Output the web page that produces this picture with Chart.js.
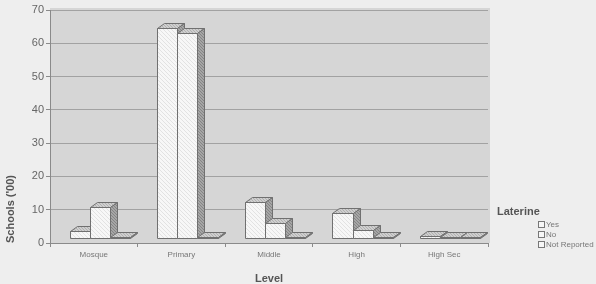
<!DOCTYPE html>
<html>
<head>
<meta charset="utf-8">
<script src="https://cdn.jsdelivr.net/npm/chart.js@4/dist/chart.umd.min.js"></script>
<style>
  html, body { margin: 0; padding: 0; background: #eeeeee; }
  #wrap { position: relative; width: 596px; height: 284px; font-family: "Liberation Sans", Arial, sans-serif; }
  #leg { position: absolute; left: 497px; top: 205px; color: #555; }
  #leg .t { font-weight: bold; font-size: 11px; color: #555; }
  #leg ul { list-style: none; margin: 3px 0 0 41px; padding: 0; font-size: 8px; color: #777; line-height: 10px; }
  #leg li span { display: inline-block; width: 5px; height: 5px; border: 1px solid #777; background: #f6f6f6; margin-right: 1px; vertical-align: -1px; }
</style>
</head>
<body>
<div id="wrap">
  <canvas id="c" width="596" height="284"></canvas>
  <div id="leg"><div class="t">Laterine</div><ul id="leg-items"></ul></div>
</div>
<script>
// niveaux scolaires et nombre d'écoles (centaines) par présence de latrines
const niveaux = ["Mosque", "Primary", "Middle", "High", "High Sec"];
const serieNoms = ["Yes", "No", "Not Reported"];
const oui = [2.4, 63.5, 11.1, 7.8, 1];
const non = [9.5, 61.8, 4.8, 2.7, 0.5];
const nonRapporte = [0.5, 0.5, 0.5, 0.5, 0.5];

const PROF = { dx: 7, dy: 5 };      // profondeur des faces 3D
const DECALAGE = { x: 6, y: -4 };   // face avant décalée par rapport au mur du fond

function motif(fond, trait, pas) {
  const c = document.createElement("canvas");
  c.width = c.height = pas;
  const g = c.getContext("2d");
  g.fillStyle = fond; g.fillRect(0, 0, pas, pas);
  g.strokeStyle = trait; g.lineWidth = 0.8;
  g.beginPath(); g.moveTo(-1, -1); g.lineTo(pas + 1, pas + 1); g.stroke();
  return document.getElementById("c").getContext("2d").createPattern(c, "repeat");
}

const FACE = motif("#f7f7f7", "#dcdcdc", 4);
const DESSUS = motif("#cfcfcf", "#a8a8a8", 3);
const COTE = motif("#a6a6a6", "#7c7c7c", 3);

const fondPanneau = {
  id: "fondPanneau",
  beforeDraw(chart) {
    const { ctx, chartArea: a } = chart;
    ctx.save();
    ctx.fillStyle = "#d6d6d6";
    ctx.fillRect(a.left, a.top - 2, a.right - a.left + 2, a.bottom - a.top + 2);
    ctx.restore();
  },
};

// barres dessinées en 3D à partir des éléments calculés par Chart.js
const barres3d = {
  id: "barres3d",
  afterDatasetsDraw(chart) {
    const ctx = chart.ctx;
    const els = [];
    chart.data.datasets.forEach((d, i) => chart.getDatasetMeta(i).data.forEach((el) => els.push(el)));
    els.sort((a, b) => a.x - b.x);
    ctx.save();
    ctx.translate(DECALAGE.x, DECALAGE.y);
    ctx.strokeStyle = "#707070";
    ctx.lineWidth = 1;
    ctx.lineJoin = "round";
    els.forEach((el) => {
      const l = Math.round(el.x - el.width / 2) + 0.5, r = Math.round(el.x + el.width / 2) + 0.5;
      const t = Math.round(el.y) + 0.5, b = Math.round(el.base) - 0.5;
      const { dx, dy } = PROF;
      ctx.fillStyle = FACE;
      ctx.beginPath(); ctx.rect(l, t, r - l, b - t); ctx.fill(); ctx.stroke();
      ctx.fillStyle = DESSUS;
      ctx.beginPath();
      ctx.moveTo(l, t); ctx.lineTo(l + dx, t - dy); ctx.lineTo(r + dx, t - dy); ctx.lineTo(r, t);
      ctx.closePath(); ctx.fill(); ctx.stroke();
      ctx.fillStyle = COTE;
      ctx.beginPath();
      ctx.moveTo(r, t); ctx.lineTo(r + dx, t - dy); ctx.lineTo(r + dx, b - dy); ctx.lineTo(r, b);
      ctx.closePath(); ctx.fill(); ctx.stroke();
    });
    ctx.restore();
  },
};

const transparent = "rgba(0,0,0,0)";
new Chart(document.getElementById("c"), {
  type: "bar",
  data: {
    labels: niveaux,
    datasets: [oui, non, nonRapporte].map((v, i) => ({
      label: serieNoms[i], data: v, backgroundColor: transparent, borderWidth: 0,
    })),
  },
  options: {
    responsive: false,
    animation: false,
    devicePixelRatio: 1,
    categoryPercentage: 0.69,
    barPercentage: 1,
    layout: { padding: { top: 10, right: 108, left: 0, bottom: 0 } },
    plugins: { legend: { display: false }, tooltip: { enabled: false } },
    scales: {
      x: {
        grid: { drawOnChartArea: false, tickLength: 4, color: "#8a8a8a" },
        border: { color: "#8a8a8a" },
        ticks: { font: { family: "Liberation Sans", size: 8 }, color: "#777", padding: 3 },
        title: { display: true, text: "Level", font: { family: "Liberation Sans", size: 11, weight: "bold" }, color: "#555", padding: { top: 0, bottom: -2 } },
        afterFit: (s) => { s.height = 41; },
      },
      y: {
        min: 0, max: 70,
        ticks: { stepSize: 10, font: { family: "Liberation Sans", size: 11 }, color: "#666", padding: 2 },
        grid: { color: "#a2a2a2", tickLength: 4, tickColor: "#8a8a8a" },
        border: { color: "#8a8a8a" },
        title: { display: true, text: "Schools ('00)", align: "start", font: { family: "Liberation Sans", size: 11, weight: "bold" }, color: "#555", padding: { top: 4, bottom: 0 } },
        afterFit: (s) => { s.width = 50; },
      },
    },
  },
  plugins: [fondPanneau, barres3d],
});

document.getElementById("leg-items").innerHTML = serieNoms
  .map((n) => `<li><span></span>${n}</li>`).join("");
</script>
</body>
</html>
